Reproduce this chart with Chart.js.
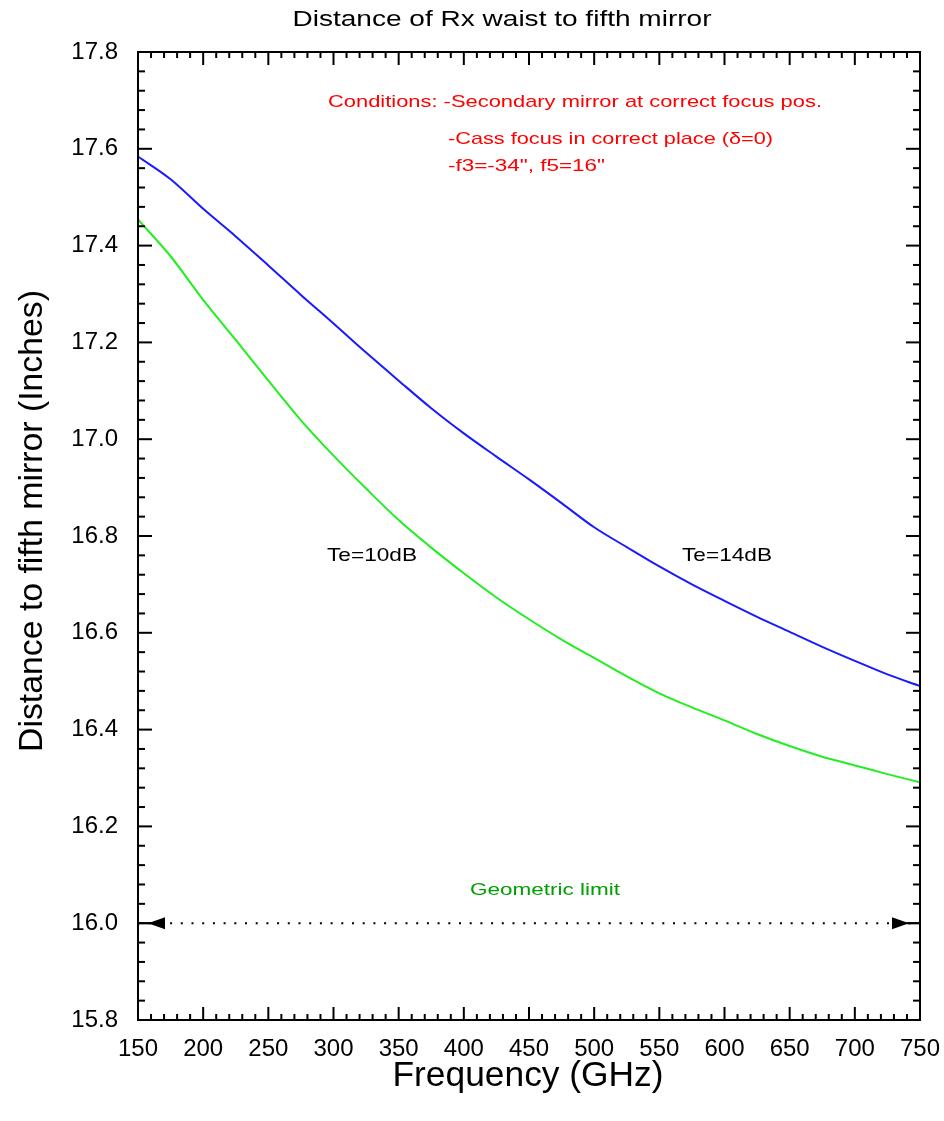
<!DOCTYPE html>
<html>
<head>
<meta charset="utf-8">
<script src="https://cdn.jsdelivr.net/npm/chart.js@4"></script>
<style>
  html, body { margin: 0; padding: 0; background: #fff; }
  #wrap { width: 944px; height: 1121px; }
</style>
</head>
<body>
<div id="wrap"><canvas id="chrt" width="944" height="1121"></canvas></div>
<script>
// frequency (GHz) and distance (inches)
var freqs = [150, 175, 200, 225, 250, 275, 300, 325, 350, 375, 400, 425, 450, 475, 500, 525, 550, 575, 600, 625, 650, 675, 700, 725, 750];
var te14 = [17.584, 17.537, 17.476, 17.419, 17.359, 17.298, 17.239, 17.179, 17.121, 17.064, 17.012, 16.964, 16.917, 16.868, 16.818, 16.777, 16.737, 16.700, 16.666, 16.633, 16.602, 16.571, 16.542, 16.514, 16.490];
var te10 = [17.454, 17.378, 17.288, 17.205, 17.121, 17.039, 16.966, 16.898, 16.833, 16.776, 16.723, 16.673, 16.628, 16.586, 16.548, 16.510, 16.475, 16.446, 16.419, 16.391, 16.366, 16.344, 16.326, 16.308, 16.291];
var geoFreqs = [150, 750];
var geoLimit = [16.0, 16.0];

var xMin = 150, xMax = 750, xStep = 50, xMinor = 10;
var yMin = 15.8, yMax = 17.8, yStep = 0.2, yMinor = 0.04;

var FONT = '"Liberation Sans", Arial, sans-serif';

function pts(xs, ys) {
	return xs.map(function (f, i) { return { x: f, y: ys[i] }; });
}

// text stretched to the width it has in the picture
function fitText(ctx, txt, x, y, size, w, color, align) {
	ctx.save();
	ctx.font = size + 'px ' + FONT;
	var nat = ctx.measureText(txt).width;
	var s = w ? w / nat : 1;
	ctx.translate(x, y);
	ctx.scale(s, 1);
	ctx.fillStyle = color;
	ctx.textAlign = align || 'left';
	ctx.textBaseline = 'middle';
	ctx.fillText(txt, 0, 0);
	ctx.restore();
}

function line(ctx, x1, y1, x2, y2) {
	ctx.beginPath();
	ctx.moveTo(x1, y1);
	ctx.lineTo(x2, y2);
	ctx.stroke();
}

var framePlugin = {
	id: 'frame',
	afterDatasetsDraw: function (chart) {
		var ctx = chart.ctx, a = chart.chartArea, sx = chart.scales.x, sy = chart.scales.y;
		ctx.save();
		ctx.strokeStyle = '#000';
		ctx.fillStyle = '#000';
		ctx.lineWidth = 2;

		// geometric limit arrows
		var yl = sy.getPixelForValue(geoLimit[0]);
		var xl = sx.getPixelForValue(geoFreqs[0]);
		var xr = sx.getPixelForValue(geoFreqs[1]);
		line(ctx, xl, yl, xl + 12, yl);
		line(ctx, xr - 12, yl, xr, yl);
		ctx.beginPath();
		ctx.moveTo(xl + 10, yl);
		ctx.lineTo(xl + 27, yl - 6);
		ctx.lineTo(xl + 27, yl + 6);
		ctx.closePath();
		ctx.fill();
		ctx.beginPath();
		ctx.moveTo(xr - 11, yl);
		ctx.lineTo(xr - 28, yl - 6);
		ctx.lineTo(xr - 28, yl + 6);
		ctx.closePath();
		ctx.fill();

		// box and inward ticks on all four sides
		ctx.strokeRect(a.left, a.top, a.right - a.left, a.bottom - a.top);
		var n = Math.round((xMax - xMin) / xMinor);
		for (var i = 0; i <= n; i++) {
			var px = sx.getPixelForValue(xMin + i * xMinor);
			var len = (i % (xStep / xMinor) == 0) ? 13 : 6;
			line(ctx, px, a.bottom, px, a.bottom - len);
			line(ctx, px, a.top, px, a.top + len);
		}
		var m = Math.round((yMax - yMin) / yMinor);
		for (var j = 0; j <= m; j++) {
			var py = sy.getPixelForValue(yMin + j * yMinor);
			var ln = (j % 5 == 0) ? 14 : 7;
			line(ctx, a.left, py, a.left + ln, py);
			line(ctx, a.right, py, a.right - ln, py);
		}
		ctx.restore();

		// texts
		fitText(ctx, 'Distance of Rx waist to fifth mirror', 502, 20, 22, 419, '#000', 'center');
		fitText(ctx, 'Frequency (GHz)', 528, 1076, 35, 271, '#000', 'center');
		ctx.save();
		ctx.translate(33, 521);
		ctx.rotate(-Math.PI / 2);
		fitText(ctx, 'Distance to fifth mirror (Inches)', 0, 0, 34, 462, '#000', 'center');
		ctx.restore();

		fitText(ctx, 'Conditions: -Secondary mirror at correct focus pos.', 328, 102, 17, 494, '#ff0000');
		fitText(ctx, '-Cass focus in correct place (\u03B4=0)', 448, 139, 17, 325, '#ff0000');
		fitText(ctx, '-f3=-34", f5=16"', 448, 166, 17, 157, '#ff0000');

		fitText(ctx, 'Te=10dB', 327, 556, 19, 90, '#000');
		fitText(ctx, 'Te=14dB', 682, 556, 19, 90, '#000');
		fitText(ctx, 'Geometric limit', 470, 890, 17, 150, '#00a000');
	}
};

new Chart(document.getElementById('chrt').getContext('2d'), {
	type: 'line',
	data: {
		datasets: [
			{
				label: 'Te=14dB',
				data: pts(freqs, te14),
				borderColor: '#1a1aff',
				borderWidth: 2,
				pointRadius: 0,
				cubicInterpolationMode: 'monotone'
			},
			{
				label: 'Te=10dB',
				data: pts(freqs, te10),
				borderColor: '#22ee22',
				borderWidth: 2,
				pointRadius: 0,
				cubicInterpolationMode: 'monotone'
			},
			{
				label: 'Geometric limit',
				data: pts(geoFreqs, geoLimit),
				borderColor: '#000',
				borderWidth: 2,
				borderDash: [2, 8.7],
				pointRadius: 0
			}
		]
	},
	options: {
		responsive: false,
		animation: false,
		layout: { padding: { top: 52, right: 24, left: 0, bottom: 0 } },
		plugins: {
			legend: { display: false },
			tooltip: { enabled: false },
			title: { display: false }
		},
		scales: {
			x: {
				type: 'linear',
				min: xMin,
				max: xMax,
				grid: { display: false, drawTicks: false },
				border: { display: false },
				ticks: {
					stepSize: xStep,
					color: '#000',
					padding: 15,
					maxRotation: 0,
					font: { family: FONT, size: 24 }
				},
				afterFit: function (s) {
					s.height = 101;
					s.paddingLeft = 0;
					s.paddingRight = 0;
				}
			},
			y: {
				type: 'linear',
				min: yMin,
				max: yMax,
				grid: { display: false, drawTicks: false },
				border: { display: false },
				ticks: {
					stepSize: yStep,
					color: '#000',
					padding: 20,
					font: { family: FONT, size: 24 },
					callback: function (v) { return v.toFixed(1); }
				},
				afterFit: function (s) {
					s.width = 138;
					s.paddingTop = 0;
					s.paddingBottom = 0;
				}
			}
		}
	},
	plugins: [framePlugin]
});
</script>
</body>
</html>
